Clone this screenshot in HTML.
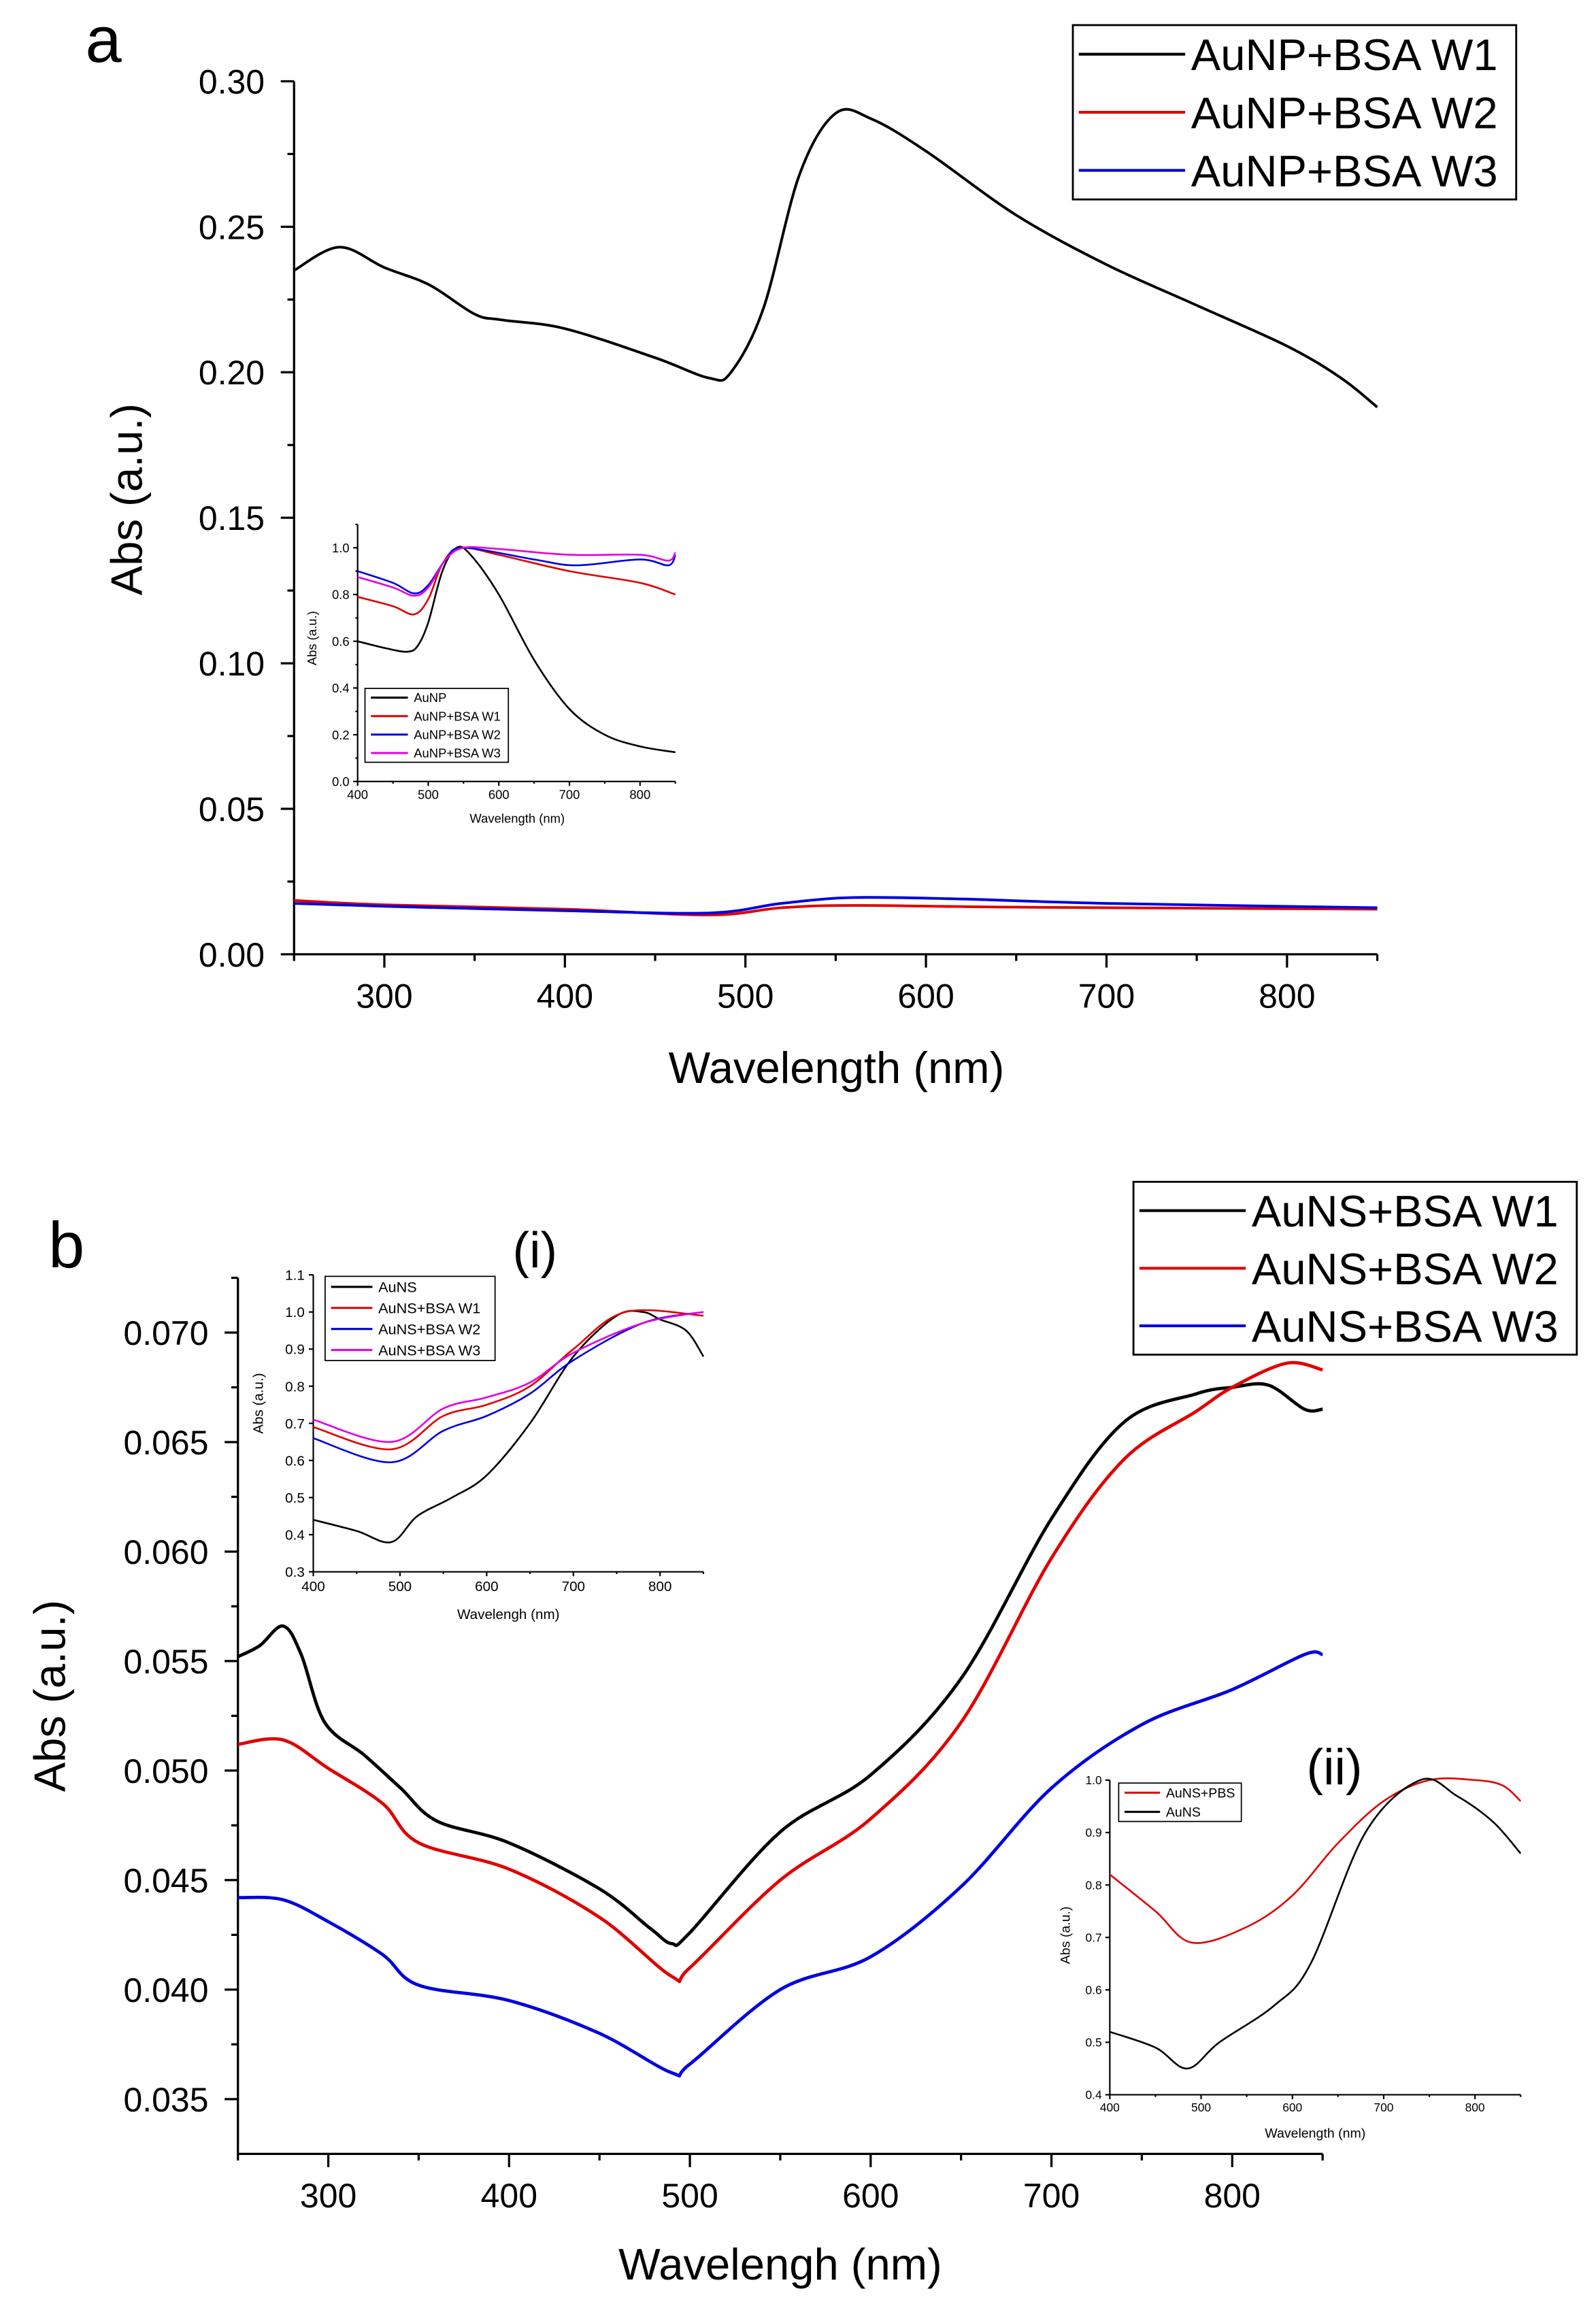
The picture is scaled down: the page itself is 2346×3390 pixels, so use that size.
<!DOCTYPE html>
<html><head><meta charset="utf-8"><style>
html,body{margin:0;padding:0;background:#fff}
svg{display:block}
text{font-family:"Liberation Sans",sans-serif;fill:#000}
</style></head><body>
<svg id="s" width="2346" height="3390" viewBox="0 0 1080 1561" preserveAspectRatio="none" xmlns="http://www.w3.org/2000/svg">
<rect width="1080" height="1561" fill="#fff"/>
<g id="g"></g>
</svg>
<script>
const NS="http://www.w3.org/2000/svg",G=document.getElementById('g');
function el(t,a,txt){const e=document.createElementNS(NS,t);for(const k in a)e.setAttribute(k,a[k]);if(txt!==undefined)e.textContent=txt;G.appendChild(e);return e;}
function line(x1,y1,x2,y2,w,c){el('line',{x1,y1,x2,y2,stroke:c||'#000','stroke-width':w||1});}
function txt(x,y,s,sz,anchor,rot){const a={x,y,'font-size':sz,'text-anchor':anchor||'middle'};if(rot)a.transform=`rotate(${rot} ${x} ${y})`;el('text',a,s);}
function curve(pts,fx,fy,c,w){
  let P=pts.map(p=>[fx(p[0]),fy(p[1])]);let d='M'+P[0][0]+' '+P[0][1];
  for(let i=0;i<P.length-1;i++){const p0=P[i-1]||P[i],p1=P[i],p2=P[i+1],p3=P[i+2]||P[i+1];
    const c1=[p1[0]+(p2[0]-p0[0])/6,p1[1]+(p2[1]-p0[1])/6],c2=[p2[0]-(p3[0]-p1[0])/6,p2[1]-(p3[1]-p1[1])/6];
    d+=` C${c1[0]} ${c1[1]} ${c2[0]} ${c2[1]} ${p2[0]} ${p2[1]}`;}
  el('path',{d,fill:'none',stroke:c,'stroke-width':w||1.6,'stroke-linejoin':'round'});
}
function axes(o){
  const fx=v=>o.x0+(v-o.xmin)/(o.xmax-o.xmin)*(o.x1-o.x0);
  const fy=v=>o.ybot-(v-o.ymin)/(o.ymax-o.ymin)*(o.ybot-o.ytop);
  line(o.x0,o.ybot,o.x1,o.ybot,o.aw);line(o.x0,o.ybot,o.x0,o.ytop,o.aw);
  const xg=o.xg||0, yg=o.yg||0;
  o.xticks.forEach(v=>{line(fx(v),o.ybot,fx(v),o.ybot+o.tl,o.aw);txt(fx(v),o.ybot+o.tl+o.fs*1.05+xg,String(v),o.fs);});
  (o.xminor||[]).forEach(v=>line(fx(v),o.ybot,fx(v),o.ybot+o.tl/2,o.aw));
  o.yticks.forEach(v=>{line(o.x0,fy(v),o.x0-o.tl,fy(v),o.aw);txt(o.x0-o.tl-o.fs*0.3-yg,fy(v)+o.fs*0.36,v.toFixed(o.dec),o.fs,'end');});
  (o.yminor||[]).forEach(v=>line(o.x0,fy(v),o.x0-o.tl/2,fy(v),o.aw));
  return [fx,fy];
}
function rng(a,b,s){const r=[];for(let v=a;v<=b+1e-9;v+=s)r.push(+v.toFixed(5));return r;}
function legend(x,y,w,h,items,fs,ll,lw){
  el('rect',{x,y,width:w,height:h,fill:'#fff',stroke:'#000','stroke-width':lw||1});
  const step=h/items.length;
  items.forEach((it,i)=>{const cy=y+step*(i+0.5);line(x+4,cy,x+4+ll,cy,lw?lw+0.6:1.2,it[1]);txt(x+8+ll,cy+fs*0.36,it[0],fs,'start');});
}
const K='#000',R='#e00000',B='#0000e0',M='#e000e0';
// ===== Panel a =====
txt(70,42,'a',44,'middle');
let [fx,fy]=axes({x0:199,x1:932,ybot:646,ytop:55,xmin:250,xmax:850,xticks:[300,400,500,600,700,800],xminor:[250,350,450,550,650,750,850],ymin:0,ymax:0.3,yticks:rng(0,0.3,0.05),yminor:rng(0.025,0.3,0.05),fs:23,tl:9,dec:2,aw:1.5,xg:3,yg:4});
txt(566,733,'Wavelength (nm)',30);txt(96,338,'Abs (a.u.)',30,'middle',-90);
curve([[250,.235],[275,.243],[300,.236],[325,.230],[350,.220],[365,.218],[400,.215],[450,.205],[480,.198],[492,.2],[510,.222],[530,.268],[550,.289],[570,.287],[600,.276],[650,.254],[700,.237],[750,.223],[800,.209],[830,.198],[850,.188]],fx,fy,K,1.8);
curve([[250,.0185],[300,.017],[400,.0155],[480,.0135],[520,.016],[560,.0168],[650,.0162],[850,.0155]],fx,fy,R,1.8);
curve([[250,.0175],[300,.0165],[400,.015],[480,.0142],[520,.0175],[560,.0195],[620,.019],[700,.0175],[850,.016]],fx,fy,B,1.8);
legend(726,17,300,118,[['AuNP+BSA W1',K],['AuNP+BSA W2',R],['AuNP+BSA W3',B]],30,72,1.3);
// inset a
[fx,fy]=axes({x0:242,x1:457,ybot:529,ytop:355,xmin:400,xmax:850,xticks:[400,500,600,700,800],xminor:[450,550,650,750,850],ymin:0,ymax:1.1,yticks:rng(0,1.0,0.2),yminor:rng(0.1,1.1,0.2),fs:8.5,tl:3,dec:1,aw:1});
txt(350,557,'Wavelength (nm)',8.5);txt(214,432,'Abs (a.u.)',8.5,'middle',-90);
curve([[400,.6],[440,.57],[470,.555],[485,.58],[500,.68],[520,.9],[540,1.0],[560,.97],[600,.8],[650,.52],[700,.31],[750,.2],[800,.15],[850,.125]],fx,fy,K,1.2);
curve([[400,.79],[450,.75],[480,.715],[500,.78],[520,.93],[545,1.0],[600,.97],[700,.9],[800,.85],[850,.8]],fx,fy,R,1.2);
curve([[400,.9],[450,.85],[480,.805],[500,.84],[525,.95],[550,1.0],[650,.95],[710,.925],[800,.95],[840,.925],[850,.97]],fx,fy,B,1.2);
curve([[400,.875],[450,.83],[480,.795],[500,.83],[525,.95],[550,1.0],[600,.995],[700,.97],[800,.97],[840,.945],[850,.98]],fx,fy,M,1.2);
legend(247,466,97,50,[['AuNP',K],['AuNP+BSA W1',R],['AuNP+BSA W2',B],['AuNP+BSA W3',M]],8.5,25,0.8);
// ===== Panel b =====
txt(45,858,'b',44,'middle');
[fx,fy]=axes({x0:161,x1:895,ybot:1458,ytop:865,xmin:250,xmax:850,xticks:[300,400,500,600,700,800],xminor:[250,350,450,550,650,750,850],ymin:0.0325,ymax:0.0725,yticks:rng(0.035,0.07,0.005),yminor:rng(0.0375,0.0725,0.005),fs:23,tl:9,dec:3,aw:1.5,xg:3,yg:4});
txt(528,1543,'Wavelengh (nm)',30);txt(44,1148,'Abs (a.u.)',30,'middle',-90);
curve([[250,.0552],[262,.0557],[275,.0566],[285,.0553],[298,.0522],[320,.0507],[340,.0492],[360,.0477],[400,.0467],[450,.0446],[478,.0428],[490,.0421],[500,.0426],[550,.0472],[600,.0498],[650,.0542],[700,.0615],[740,.0659],[780,.0672],[800,.0675],[820,.0676],[840,.0665],[850,.0665]],fx,fy,K,2.2);
curve([[250,.0512],[275,.0514],[300,.0501],[330,.0485],[350,.0467],[400,.0455],[450,.0433],[490,.0406],[500,.041],[550,.045],[600,.0478],[650,.0522],[700,.0597],[740,.0642],[780,.0664],[800,.0675],[830,.0686],[850,.0683]],fx,fy,R,2.2);
curve([[250,.0442],[275,.0441],[300,.0431],[330,.0416],[350,.0402],[400,.0395],[450,.038],[490,.0362],[500,.0366],[550,.04],[600,.0415],[650,.0447],[700,.0492],[750,.0521],[800,.0537],[840,.0553],[850,.0553]],fx,fy,B,2.2);
legend(767,800,300,117,[['AuNS+BSA W1',K],['AuNS+BSA W2',R],['AuNS+BSA W3',B]],30,72,1.3);
txt(362,858,'(i)',34);txt(903,1208,'(ii)',34);
// inset i
[fx,fy]=axes({x0:212,x1:476,ybot:1064,ytop:863,xmin:400,xmax:850,xticks:[400,500,600,700,800],xminor:[450,550,650,750,850],ymin:0.3,ymax:1.1,yticks:rng(0.3,1.1,0.1),fs:9.5,tl:3,dec:1,aw:1});
txt(344,1096,'Wavelengh (nm)',9.5);txt(178,950,'Abs (a.u.)',9.5,'middle',-90);
curve([[400,.44],[450,.41],[490,.38],[520,.45],[560,.5],[600,.56],[650,.7],[700,.88],[750,.99],[780,1.0],[800,.98],[830,.95],[850,.88]],fx,fy,K,1.2);
curve([[400,.69],[490,.63],[550,.72],[600,.75],[650,.8],[700,.9],[760,1.0],[850,.99]],fx,fy,R,1.2);
curve([[400,.66],[490,.595],[550,.68],[600,.72],[650,.78],[700,.87],[780,.97],[850,1.0]],fx,fy,B,1.2);
curve([[400,.71],[490,.65],[550,.74],[600,.77],[650,.81],[700,.89],[780,.97],[850,1.0]],fx,fy,M,1.2);
legend(220,864,115,57,[['AuNS',K],['AuNS+BSA W1',R],['AuNS+BSA W2',B],['AuNS+BSA W3',M]],10,28,0.8);
// inset ii
[fx,fy]=axes({x0:751,x1:1029,ybot:1418,ytop:1205,xmin:400,xmax:850,xticks:[400,500,600,700,800],xminor:[450,550,650,750,850],ymin:0.4,ymax:1.0,yticks:rng(0.4,1.0,0.1),fs:8,tl:3,dec:1,aw:1});
txt(890,1447,'Wavelength (nm)',9);txt(724,1310,'Abs (a.u.)',9,'middle',-90);
curve([[400,.82],[450,.75],[490,.69],[550,.72],[600,.78],[650,.88],[700,.96],[750,1.0],[800,1.0],[830,.99],[850,.96]],fx,fy,R,1.2);
curve([[400,.52],[450,.49],[485,.45],[520,.5],[580,.57],[620,.65],[680,.9],[740,1.0],[780,.97],[820,.92],[850,.86]],fx,fy,K,1.2);
legend(757,1207,83,26,[['AuNS+PBS',R],['AuNS',K]],9,24,0.8);
</script>
</body></html>
